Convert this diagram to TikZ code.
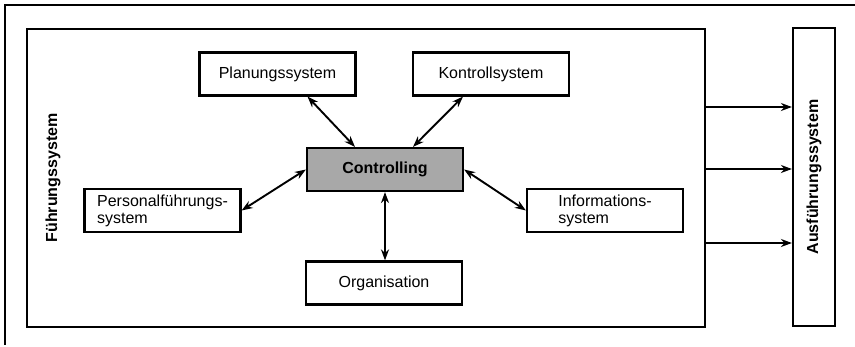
\documentclass[tikz,border=0pt]{standalone}
\usepackage{fontspec}
\setmainfont{Liberation Sans}
\usepackage{tikz}
\usetikzlibrary{calc,positioning,arrows.meta}
\usepackage{xcolor}
\definecolor{ctrlgray}{RGB}{168,168,168}
\tikzset{
  sysbox/.style={rectangle,draw=black,line width=2.2pt,fill=white,minimum width=156pt,minimum height=43pt,inner sep=0pt,align=left,font=\fontsize{16}{17}\selectfont},
  ctrlbox/.style={sysbox,fill=ctrlgray,font=\fontsize{16}{17}\selectfont\bfseries},
  frame/.style={rectangle,draw=black,line width=2.2pt,inner sep=0pt},
  vlabel/.style={rotate=90,font=\fontsize{16}{17}\selectfont\bfseries},
  dblarrow/.style={{Stealth[length=11pt,width=8pt]}-{Stealth[length=11pt,width=8pt]},line width=1.9pt},
  outarrow/.style={-{Stealth[length=11pt,width=8pt]},line width=1.9pt},
}

\begin{document}
\begin{tikzpicture}[x=1pt,y=-1pt]
  \useasboundingbox (0,0) rectangle (855,347);
  \draw[line width=1.4pt] (5,345) -- (5,5) -- (855,5);
  % outer systems
  \node[frame,minimum width=678pt,minimum height=298pt](fuehr) at (366,178){};
  \node[frame,minimum width=42pt,minimum height=298pt](aus) at (814,177){};
  \node[vlabel](fuehrlbl) at (53,178){Führungssystem};
  \node[vlabel](auslbl) at (814,177){Ausführungssystem};
  % subsystems
  \node[sysbox](plan) at (277.5,74){Planungssystem};
  \node[sysbox](kontr) at (491,74){Kontrollsystem};
  \node[ctrlbox](ctrl) at (385,169.5){Controlling};
  \node[sysbox](pers) at (162.5,210.5){Personalführungs-\\system};
  \node[sysbox](info) at (605,210.5){Informations-\\system};
  \node[sysbox](org) at (384,283){Organisation};
  \draw[dblarrow] ([xshift=30pt]plan.south) -- ([xshift=-30pt]ctrl.north);
  \draw[dblarrow] ([xshift=-28pt]kontr.south) -- ([xshift=28pt]ctrl.north);
  \draw[dblarrow] (pers.east) -- (ctrl.west);
  \draw[dblarrow] (ctrl.east) -- (info.west);
  \draw[dblarrow] (ctrl.south) -- (ctrl.south |- org.north);
  \foreach \yy in {107,169,243}
    {\draw[outarrow] (fuehr.east |- 0,\yy) -- (aus.west |- 0,\yy);}
\end{tikzpicture}
\end{document}
